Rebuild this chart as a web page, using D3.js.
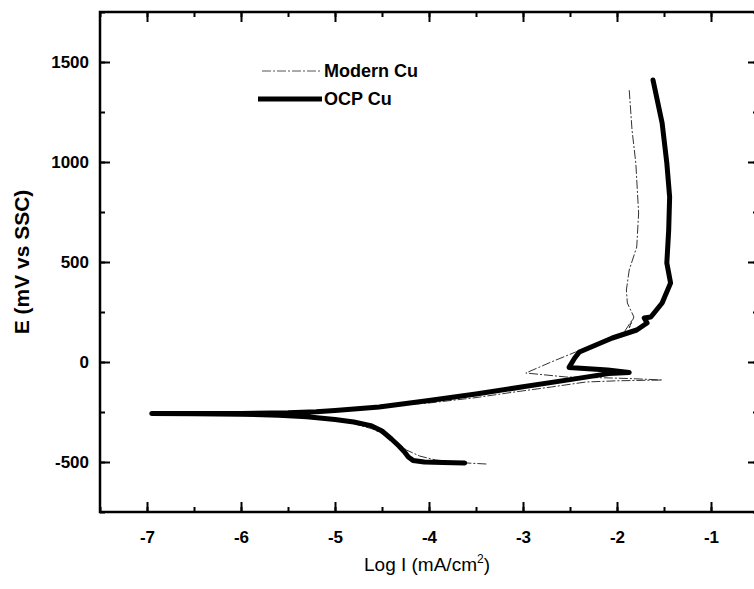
<!DOCTYPE html>
<html>
<head>
<meta charset="utf-8">
<script src="https://cdn.jsdelivr.net/npm/d3@7"></script>
<style>
  body { margin: 0; background: #fff; }
  svg { display: block; font-family: "Liberation Sans", Arial, sans-serif; }
</style>
</head>
<body>
<svg id="chart" width="754" height="589"></svg>
<script>
// polarization curves: [log I, E]
var modernCu = [
  [-3.39, -510], [-3.6, -505], [-3.93, -490], [-4.1, -470], [-4.24, -440],
  [-4.32, -410], [-4.42, -375], [-4.6, -335], [-4.8, -308], [-5.0, -292],
  [-5.3, -277], [-5.6, -268], [-6.0, -263], [-6.5, -261], [-6.92, -260],
  [-6.5, -259], [-6.0, -258], [-5.6, -256], [-5.3, -252], [-5.0, -245],
  [-4.6, -225], [-4.0, -205], [-3.5, -178], [-3.12, -152], [-2.7, -125],
  [-2.33, -100], [-2.0, -94], [-1.52, -90], [-1.8, -84], [-2.05, -80],
  [-2.54, -75], [-2.97, -55], [-2.7, 0], [-2.44, 50], [-2.1, 110],
  [-1.93, 145], [-1.84, 210], [-1.87, 170], [-1.82, 225], [-1.89, 295],
  [-1.9, 360], [-1.87, 460], [-1.79, 575], [-1.77, 745], [-1.8, 995],
  [-1.84, 1160], [-1.87, 1360]
];

var ocpCu = [
  [-3.62, -505], [-3.85, -503], [-4.05, -500], [-4.17, -492], [-4.22, -475],
  [-4.26, -450], [-4.32, -420], [-4.4, -385], [-4.5, -345], [-4.62, -318],
  [-4.8, -300], [-5.0, -287], [-5.3, -274], [-5.6, -266], [-6.0, -261],
  [-6.5, -259], [-6.95, -258], [-6.5, -257], [-6.0, -257], [-5.5, -254],
  [-5.2, -249], [-5.0, -243], [-4.53, -225], [-4.0, -193], [-3.5, -160],
  [-3.0, -124], [-2.5, -88], [-2.09, -58], [-1.87, -52], [-2.1, -40],
  [-2.51, -27], [-2.45, 20], [-2.4, 50], [-2.05, 120], [-1.79, 160],
  [-1.68, 195], [-1.71, 220], [-1.64, 225], [-1.52, 295], [-1.43, 395],
  [-1.47, 495], [-1.45, 660], [-1.44, 825], [-1.47, 995], [-1.52, 1195],
  [-1.617, 1410]
];

var xTicks = [-7, -6, -5, -4, -3, -2, -1];
var yTicks = [-500, 0, 500, 1000, 1500];
var seriesNames = ["Modern Cu", "OCP Cu"];

var svg = d3.select("#chart");
var margin = {left: 100, top: 12};
var w = 658, h = 500;

var x = d3.scaleLinear().domain([-7.5, -0.5]).range([0, w]);
var y = d3.scaleLinear().domain([-750, 1750]).range([h, 0]);

var g = svg.append("g").attr("transform", "translate(" + margin.left + "," + margin.top + ")");

var xMinor = d3.range(-7.5, -0.4, 0.5);
var yMinor = d3.range(-750, 1751, 250);
var plain = function(d) { return String(d); };

function minorAxis(axis, vals) {
  return axis.tickValues(vals).tickSize(-5).tickFormat("");
}

// minor ticks (all four sides)
g.append("g").attr("transform", "translate(0," + h + ")").call(minorAxis(d3.axisBottom(x), xMinor));
g.append("g").call(minorAxis(d3.axisTop(x), xMinor));
g.append("g").call(minorAxis(d3.axisLeft(y), yMinor));
g.append("g").attr("transform", "translate(" + w + ",0)").call(minorAxis(d3.axisRight(y), yMinor));

// major ticks
g.append("g").attr("transform", "translate(0," + h + ")")
  .call(d3.axisBottom(x).tickValues(xTicks).tickSize(-10).tickPadding(19).tickFormat(plain));
g.append("g")
  .call(d3.axisLeft(y).tickValues(yTicks).tickSize(-10).tickPadding(11).tickFormat(plain));
g.append("g").call(d3.axisTop(x).tickValues(xTicks).tickSize(-10).tickFormat(""));
g.append("g").attr("transform", "translate(" + w + ",0)")
  .call(d3.axisRight(y).tickValues(yTicks).tickSize(-10).tickFormat(""));

g.selectAll(".domain").remove();
g.selectAll(".tick line").attr("stroke", "#000").attr("stroke-width", 2);
g.selectAll(".tick text").attr("font-family", "Liberation Sans, Arial, sans-serif")
  .attr("font-size", 17).attr("font-weight", "bold").attr("fill", "#000");

// frame
g.append("rect").attr("width", w).attr("height", h)
  .attr("fill", "none").attr("stroke", "#000").attr("stroke-width", 2.5);

var line = d3.line().x(function(d) { return x(d[0]); }).y(function(d) { return y(d[1]); });

g.append("path").datum(modernCu).attr("d", line)
  .attr("fill", "none").attr("stroke", "#333").attr("stroke-width", 1)
  .attr("stroke-dasharray", "9,2,2,2");

g.append("path").datum(ocpCu).attr("d", line)
  .attr("fill", "none").attr("stroke", "#000").attr("stroke-width", 5)
  .attr("stroke-linejoin", "round").attr("stroke-linecap", "round");

// legend
var legend = svg.append("g");
legend.append("line").attr("x1", 262).attr("x2", 322).attr("y1", 71).attr("y2", 71)
  .attr("stroke", "#555").attr("stroke-width", 1).attr("stroke-dasharray", "9,2,2,2");
legend.append("line").attr("x1", 258).attr("x2", 322).attr("y1", 99).attr("y2", 99)
  .attr("stroke", "#000").attr("stroke-width", 5);
legend.selectAll("text").data(seriesNames).enter().append("text")
  .attr("x", 324).attr("y", function(d, i) { return 71 + i * 28; })
  .attr("dy", "0.35em").attr("font-size", 18).attr("font-weight", "bold")
  .text(function(d) { return d; });

// axis titles
svg.append("text").attr("x", margin.left + w / 2 - 2).attr("y", 571)
  .attr("text-anchor", "middle").attr("font-size", 19)
  .html('Log I (mA/cm<tspan dy="-8" font-size="12">2</tspan><tspan dy="8">)</tspan>');

svg.append("text").attr("transform", "translate(29," + (margin.top + h / 2) + ") rotate(-90)")
  .attr("text-anchor", "middle").attr("font-size", 21).attr("font-weight", "bold")
  .text("E (mV vs SSC)");
</script>
</body>
</html>
